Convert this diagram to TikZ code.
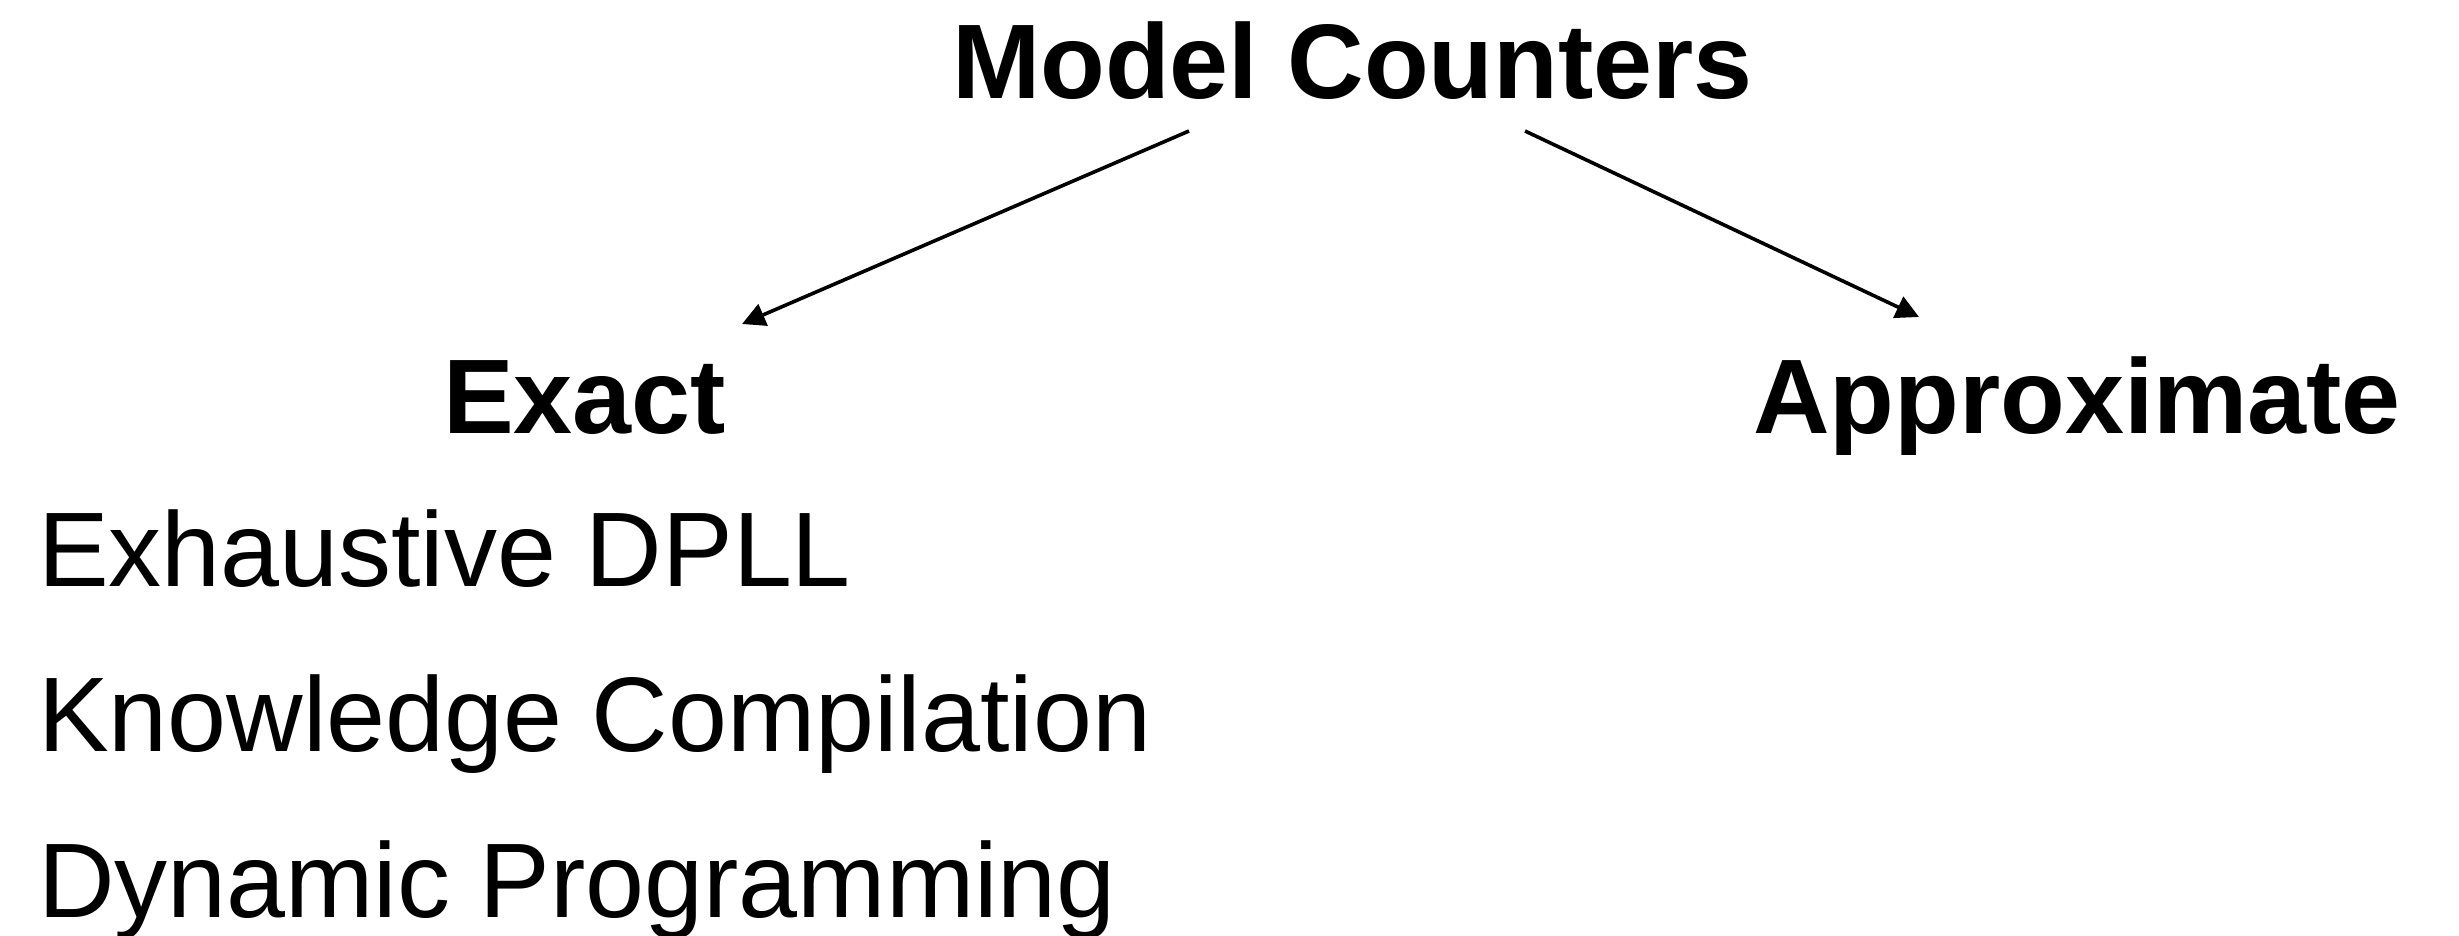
\documentclass[tikz,border=0pt]{standalone}
\usepackage{fontspec}
\setmainfont{Liberation Sans}
\usetikzlibrary{arrows.meta}
\begin{document}
\begin{tikzpicture}[x=1pt,y=-1pt,
  every node/.style={inner sep=0pt,outer sep=0pt,anchor=base west},
  heading/.style={font=\fontsize{106}{120}\selectfont\bfseries},
  method/.style={font=\fontsize{106}{120}\selectfont},
  branch/.style={line width=3.6pt,-{Triangle[length=23pt,width=23pt]}}]
\useasboundingbox (0,0) rectangle (2459,936);

% root and the two families
\node[heading] (mc) at (952,99) {Model Counters};
\node[heading] (exact) at (443,433) {Exact};
\node[heading] (approx) at (1753,433) {Approximate};

% exact techniques
\node[method] (dpll) at (38,586) {Exhaustive DPLL};
\node[method] (kc) at (38,751) {Knowledge Compilation};
\node[method] (dp) at (38,917) {Dynamic Programming};

% arrow ends
\coordinate (mcL) at (1189,131);
\coordinate (mcR) at (1525,131);
\coordinate (exT) at (742,324);
\coordinate (apT) at (1919,317);

\draw[branch] (mcL) -- (exT);
\draw[branch] (mcR) -- (apT);
\end{tikzpicture}
\end{document}
